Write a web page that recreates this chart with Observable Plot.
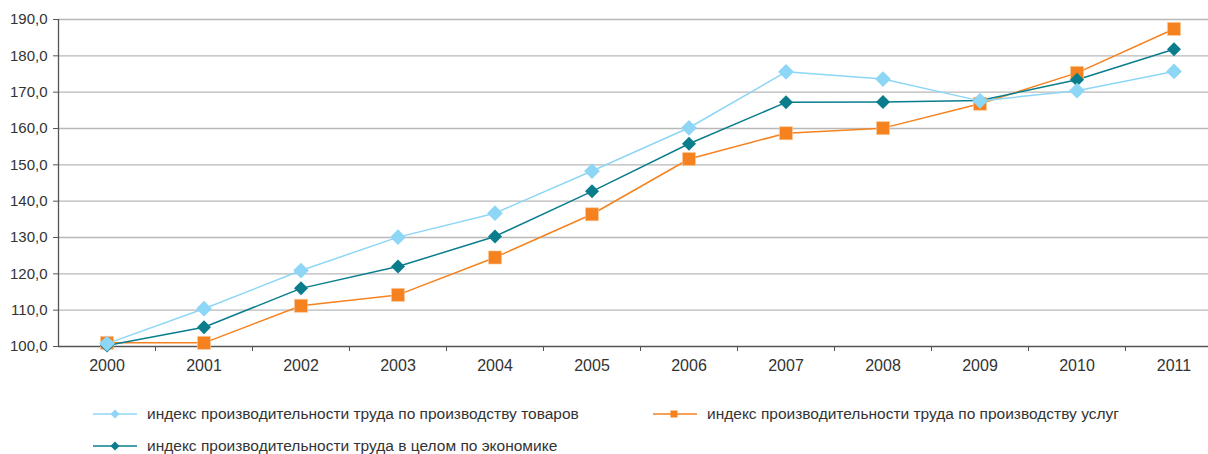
<!DOCTYPE html>
<html>
<head>
<meta charset="utf-8">
<script src="https://cdn.jsdelivr.net/npm/d3@7"></script>
<script src="https://cdn.jsdelivr.net/npm/@observablehq/plot@0.6"></script>
<style>
  body { margin: 0; background: #fff; font-family: "Liberation Sans", Arial, sans-serif; }
  #wrap { position: relative; width: 1208px; height: 454px; overflow: hidden; }
  #legend { position: absolute; left: 0; top: 0; width: 1208px; height: 454px; pointer-events: none; }
  .item { position: absolute; display: flex; align-items: center; font-size: 15.5px; color: #333; white-space: nowrap; }
  .item svg { margin-right: 10px; }
</style>
</head>
<body>
<div id="wrap"><div id="chart"></div><div id="legend"></div></div>
<script>
const years = [2000, 2001, 2002, 2003, 2004, 2005, 2006, 2007, 2008, 2009, 2010, 2011];
const goods   = [100.8, 110.4, 120.9, 130.1, 136.7, 148.3, 160.2, 175.6, 173.6, 167.6, 170.4, 175.7];
const economy = [100.3, 105.3, 116.0, 122.0, 130.3, 142.7, 155.8, 167.2, 167.3, 167.7, 173.4, 181.8];
const services= [101.0, 101.0, 111.2, 114.2, 124.5, 136.4, 151.6, 158.7, 160.1, 166.8, 175.3, 187.4];
const yTicks = [100, 110, 120, 130, 140, 150, 160, 170, 180, 190];
const seriesNames = [
  "индекс производительности труда по производству товаров",
  "индекс производительности труда по производству услуг",
  "индекс производительности труда в целом по экономике"
];
const colors = {goods: "#8ed6f6", services: "#f5821f", economy: "#0a7d8c"};

const rows = (vals, key) => years.map((y, i) => ({year: y, value: vals[i], key}));
const dGoods = rows(goods, "goods");
const dEcon = rows(economy, "economy");
const dServ = rows(services, "services");
const boundaries = years.slice(0, -1).map(y => y + 0.5);
const fmt = v => d3.format(".1f")(v).replace(".", ",");

const chart = Plot.plot({
  width: 1208,
  height: 390,
  marginTop: 19,
  marginBottom: 44,
  marginLeft: 58,
  marginRight: 0,
  style: {fontFamily: "'Liberation Sans', Arial, sans-serif", background: "#fff"},
  x: {type: "linear", domain: [years[0] - 0.5, years[years.length - 1] + 0.5], range: [58, 1222], label: null},
  y: {domain: [100, 190], label: null},
  marks: [
    Plot.ruleY(yTicks.slice(1), {stroke: "#b8b8b8", strokeWidth: 1.4}),
    Plot.ruleY([100], {stroke: "#555", strokeWidth: 1.3}),
    Plot.ruleX([years[0] - 0.5], {y1: 100, y2: 190, stroke: "#555", strokeWidth: 1.3}),
    Plot.axisY({ticks: yTicks, tickFormat: fmt, tickSize: 5, tickPadding: 6, stroke: "#555", fontSize: 15, fill: "#333", label: null}),
    Plot.axisX({ticks: boundaries, tickFormat: () => "", tickSize: 5, stroke: "#555", label: null}),
    Plot.axisX({ticks: years, tickFormat: d => String(d), tickSize: 0, tickPadding: 13, fontSize: 16, fill: "#333", label: null}),
    Plot.line(dServ, {x: "year", y: "value", stroke: colors.services, strokeWidth: 1.5}),
    Plot.line(dEcon, {x: "year", y: "value", stroke: colors.economy, strokeWidth: 1.5}),
    Plot.line(dGoods, {x: "year", y: "value", stroke: colors.goods, strokeWidth: 1.5}),
    Plot.dot(dServ, {x: "year", y: "value", symbol: "square", r: 7.4, fill: colors.services, stroke: "#fbd0a8", strokeWidth: 0.6}),
    Plot.dot(dEcon, {x: "year", y: "value", symbol: "diamond2", r: 6.3, fill: colors.economy, stroke: "none"}),
    Plot.dot(dGoods, {x: "year", y: "value", symbol: "diamond2", r: 7.1, fill: colors.goods, stroke: "none"})
  ]
});
document.getElementById("chart").appendChild(chart);

function legendItem(name, color, shape, left, cy) {
  const div = document.createElement("div");
  div.className = "item";
  div.style.left = left + "px";
  div.style.top = (cy - 10) + "px";
  div.style.height = "20px";
  const mk = shape === "square"
    ? `<rect x="17.5" y="2.5" width="7" height="7" fill="${color}"/>`
    : `<path d="M22,1.5 L26.5,6 L22,10.5 L17.5,6 Z" fill="${color}"/>`;
  div.innerHTML = `<svg width="44" height="12"><line x1="0" y1="6" x2="44" y2="6" stroke="${color}" stroke-width="1.5"/>${mk}</svg><span>${name}</span>`;
  document.getElementById("legend").appendChild(div);
}
legendItem(seriesNames[0], colors.goods, "diamond", 93, 414);
legendItem(seriesNames[1], colors.services, "square", 653, 414);
legendItem(seriesNames[2], colors.economy, "diamond", 93, 446);
</script>
</body>
</html>
